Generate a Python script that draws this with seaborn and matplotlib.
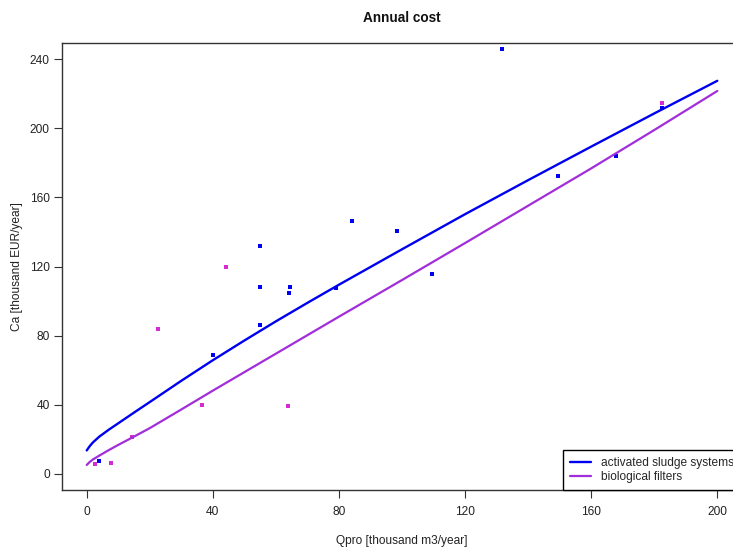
import matplotlib
matplotlib.use("Agg")
import matplotlib.pyplot as plt
import seaborn as sns
import pandas as pd

# ---- data ----
curve_x = [0, 1, 2, 4, 7, 10, 15, 20, 30, 40, 50, 60, 70, 80, 100, 120, 140, 160, 180, 200]
curve_activated = [13.6, 16.2, 18.3, 21.6, 25.6, 29.3, 35.5, 41.6, 53.9, 65.8, 77.2,
                   88.3, 99.0, 109.5, 130.0, 150.3, 170.0, 189.4, 208.6, 227.5]
curve_biofilter = [5.2, 7.0, 8.4, 10.6, 13.8, 16.8, 21.6, 26.5, 37.3, 48.2, 58.9,
                   69.6, 80.3, 91.0, 112.2, 133.6, 155.2, 176.8, 199.0, 221.6]

pts_act_x = [4.0, 40.0, 55.0, 55.0, 55.0, 64.4, 64.2, 79.1, 84.1, 98.5, 109.5,
             131.8, 149.6, 167.9, 182.6]
pts_act_y = [7.7, 68.6, 131.9, 108.0, 86.4, 108.0, 104.8, 107.6, 146.4, 140.8,
             115.9, 246.0, 172.4, 184.0, 211.7]

pts_bio_x = [2.7, 7.6, 14.3, 22.5, 36.5, 44.1, 63.7, 182.4]
pts_bio_y = [5.6, 6.1, 21.6, 83.8, 39.9, 119.7, 39.3, 214.5]

x_ticks = [0, 40, 80, 120, 160, 200]
y_ticks = [0, 40, 80, 120, 160, 200, 240]

title = "Annual cost"
x_label = "Qpro [thousand m3/year]"
y_label = "Ca [thousand EUR/year]"
legend_labels = ["activated sludge systems", "biological filters"]

col_act = "#0000F0"
col_bio_line = "#A22DDA"
col_bio_pts = "#D22CD2"

# ---- plotting ----
sns.set_style("white")
plt.rcParams['font.family'] = ['Liberation Sans', 'DejaVu Sans']

W, H = 733, 547
fig = plt.figure(figsize=(W / 100, H / 100), dpi=100)
left_px, right_px, top_px, bottom_px = 61.5, 742.5, 43.3, 490.0
ax = fig.add_axes([left_px / W, 1 - bottom_px / H,
                   (right_px - left_px) / W, (bottom_px - top_px) / H])

df_curve = pd.DataFrame({"x": curve_x, "act": curve_activated, "bio": curve_biofilter})
sns.lineplot(data=df_curve, x="x", y="act", color=col_act, lw=1.7, ax=ax,
             label=legend_labels[0])
sns.lineplot(data=df_curve, x="x", y="bio", color=col_bio_line, lw=1.6, ax=ax,
             label=legend_labels[1])

sns.scatterplot(x=pts_act_x, y=pts_act_y, color=col_act, marker="s", s=9,
                linewidth=0, ax=ax, legend=False)
sns.scatterplot(x=pts_bio_x, y=pts_bio_y, color=col_bio_pts, marker="s", s=9,
                linewidth=0, ax=ax, legend=False)

ax.set_xlim(-8, 208)
ax.set_ylim(-9.3, 249.2)
ax.set_xticks(x_ticks)
ax.set_yticks(y_ticks)
ax.tick_params(axis="both", direction="out", length=5.5, width=0.8,
               color="#333333", labelsize=8.6, labelcolor="#222222",
               bottom=True, left=True)
ax.tick_params(axis="x", pad=6)
ax.tick_params(axis="y", pad=3)
for sp in ax.spines.values():
    sp.set_color("#333333")
    sp.set_linewidth(1.0)
    sp.set_visible(True)

ax.set_title(title, fontsize=9.8, fontweight="bold", pad=15.5, color="#111111")
ax.set_xlabel(x_label, fontsize=8.6, labelpad=12, color="#222222")
ax.set_ylabel(y_label, fontsize=8.6, labelpad=5, color="#222222")

leg = ax.legend(loc="lower left", bbox_to_anchor=((563.3 - left_px) / (right_px - left_px), 0),
                borderaxespad=0, frameon=True, fancybox=False, fontsize=8.6,
                handlelength=1.8, handletextpad=0.8, borderpad=0.55,
                labelspacing=0.2)
leg.get_frame().set_edgecolor("black")
leg.get_frame().set_linewidth(1.0)
leg.get_frame().set_alpha(1)

fig.savefig("out.png", dpi=100)
